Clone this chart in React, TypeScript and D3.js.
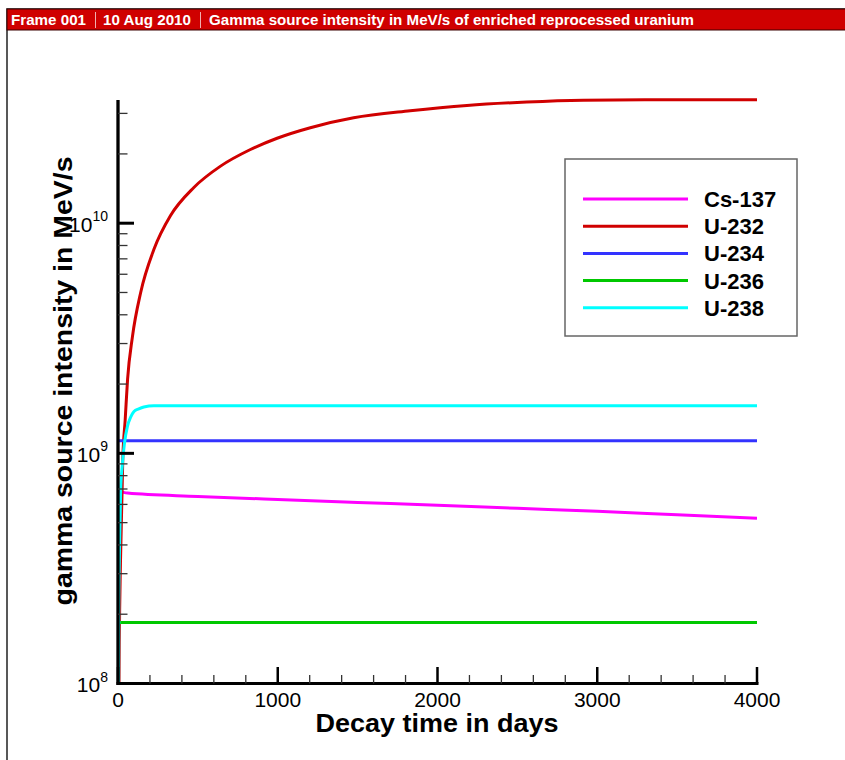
import React from "react";
import * as d3 from "d3";

// decay time (days) and gamma intensity (MeV/s)
const cs137Days = [0, 60, 500, 1000, 1500, 2000, 2500, 3000, 3500, 4000];
const cs137Values = [6.85e8, 6.72e8, 6.5e8, 6.3e8, 6.12e8, 5.95e8, 5.77e8, 5.6e8, 5.41e8, 5.23e8];

const u232Days = [0, 8, 16, 30, 45, 60, 90, 142, 225, 329, 475, 642, 829, 996, 1204, 1475, 1829, 2184, 2559, 2913, 3400, 4000];
const u232Values = [2e7, 1.5e8, 3.5e8, 9.5e8, 1.4e9, 2.1e9, 3.2e9, 5.0e9, 7.7e9, 1.08e10, 1.43e10, 1.77e10, 2.09e10, 2.34e10, 2.6e10, 2.87e10, 3.08e10, 3.25e10, 3.36e10, 3.42e10, 3.44e10, 3.44e10];

const u234Days = [0, 4000];
const u234Values = [1.135e9, 1.135e9];

const u236Days = [0, 4000];
const u236Values = [1.84e8, 1.84e8];

const u238Days = [0, 5, 10, 17, 27, 40, 59, 80, 100, 130, 162, 225, 400, 4000];
const u238Values = [1e7, 2.2e8, 4e8, 7e8, 8.9e8, 1.1e9, 1.31e9, 1.44e9, 1.52e9, 1.56e9, 1.59e9, 1.61e9, 1.61e9, 1.61e9];

const seriesNames = ["Cs-137", "U-232", "U-234", "U-236", "U-238"];
const seriesColors = ["#ff00ff", "#d00000", "#3333ff", "#00c800", "#00ffff"];

const xTicks = [0, 1000, 2000, 3000, 4000];

const font = "'Liberation Sans', Arial, Helvetica, sans-serif";

export default function App() {
  const x = d3.scaleLinear().domain([0, 4000]).range([118, 757]);
  const y = d3.scaleLog().domain([1e8, 3.43e10]).range([683.5, 100]);

  const series = [
    { days: cs137Days, values: cs137Values },
    { days: u232Days, values: u232Values },
    { days: u234Days, values: u234Values },
    { days: u236Days, values: u236Values },
    { days: u238Days, values: u238Values },
  ].map((s, i) => ({
    name: seriesNames[i],
    color: seriesColors[i],
    pts: s.days.map((d, j) => [d, s.values[j]] as [number, number]),
  }));

  const line = d3
    .line<[number, number]>()
    .x((d) => x(d[0]))
    .y((d) => y(d[1]))
    .curve(d3.curveMonotoneX);

  const yTicks = y.ticks();
  const xMinor = d3.range(0, 4001, 200).filter((v) => v % 1000 !== 0);

  const legendX = 565;
  const legendY = 159;

  return (
    <div style={{ position: "absolute", left: 0, top: 0 }}>
      <svg width={845} height={760} style={{ display: "block", background: "#fff" }}>
        <defs>
          <clipPath id="plotClip">
            <rect x={117} y={94} width={645} height={589.5} />
          </clipPath>
        </defs>

        {/* frame + header */}
        <rect x={7} y={9} width={850} height={760} fill="none" stroke="#222" strokeWidth={1.5} />
        <rect x={7} y={9} width={850} height={21} fill="#cf0000" stroke="#3a0000" strokeWidth={1} />
        <g fill="#fff" fontFamily={font} fontWeight="bold" fontSize={14}>
          <text x={11} y={25} textLength={75} lengthAdjust="spacingAndGlyphs">Frame 001</text>
          <text x={103} y={25} textLength={88} lengthAdjust="spacingAndGlyphs">10 Aug 2010</text>
          <text x={209} y={25} textLength={485} lengthAdjust="spacingAndGlyphs">
            Gamma source intensity in MeV/s of enriched reprocessed uranium
          </text>
        </g>
        <line x1={95.5} x2={95.5} y1={12} y2={28} stroke="#f0b0b0" strokeWidth={1} />
        <line x1={200.5} x2={200.5} y1={12} y2={28} stroke="#f0b0b0" strokeWidth={1} />

        {/* data */}
        <g clipPath="url(#plotClip)" fill="none" strokeWidth={3} strokeLinejoin="round">
          {series.map((s) => (
            <path key={s.name} d={line(s.pts) || ""} stroke={s.color} />
          ))}
        </g>

        {/* y axis */}
        <line x1={118} x2={118} y1={100} y2={685} stroke="#000" strokeWidth={3.3} />
        {yTicks.map((v) => {
          const lg = Math.log10(v);
          const major = Math.abs(lg - Math.round(lg)) < 1e-9;
          const yy = y(v);
          return (
            <g key={v}>
              <line
                x1={118}
                x2={major ? 134 : 127.5}
                y1={yy}
                y2={yy}
                stroke={major ? "#000" : "#333"}
                strokeWidth={major ? 3 : 1.3}
              />
              {major && (
                <text x={108} y={yy + 8.5} textAnchor="end" fontFamily={font} fontSize={21} fill="#000">
                  10
                  <tspan dy={-10.5} fontSize={14}>{Math.round(lg)}</tspan>
                </text>
              )}
            </g>
          );
        })}

        {/* x axis */}
        <line x1={116.5} x2={758.5} y1={683.5} y2={683.5} stroke="#000" strokeWidth={3} />
        {xTicks.map((v) => (
          <g key={v}>
            <line x1={x(v)} x2={x(v)} y1={683.5} y2={667} stroke="#000" strokeWidth={2.5} />
            <text x={x(v)} y={707} textAnchor="middle" fontFamily={font} fontSize={21} fill="#000">
              {v}
            </text>
          </g>
        ))}
        {xMinor.map((v) => (
          <line key={v} x1={x(v)} x2={x(v)} y1={683.5} y2={675} stroke="#333" strokeWidth={1.3} />
        ))}

        {/* axis titles */}
        <text
          x={437}
          y={732}
          textAnchor="middle"
          fontFamily={font}
          fontWeight="bold"
          fontSize={25}
          textLength={243}
          lengthAdjust="spacingAndGlyphs"
        >
          Decay time in days
        </text>
        <text
          transform="translate(72,381) rotate(-90)"
          textAnchor="middle"
          fontFamily={font}
          fontWeight="bold"
          fontSize={26}
          textLength={449}
          lengthAdjust="spacingAndGlyphs"
        >
          gamma source intensity in MeV/s
        </text>

        {/* legend */}
        <rect x={legendX} y={legendY} width={232} height={177} fill="#fff" stroke="#666" strokeWidth={1.5} />
        {series.map((s, i) => {
          const ly = 199 + i * 27.2;
          return (
            <g key={s.name}>
              <line x1={583} x2={688} y1={ly} y2={ly} stroke={s.color} strokeWidth={3} />
              <text x={704} y={ly + 8} fontFamily={font} fontWeight="bold" fontSize={22} fill="#000">
                {s.name}
              </text>
            </g>
          );
        })}
      </svg>
    </div>
  );
}
